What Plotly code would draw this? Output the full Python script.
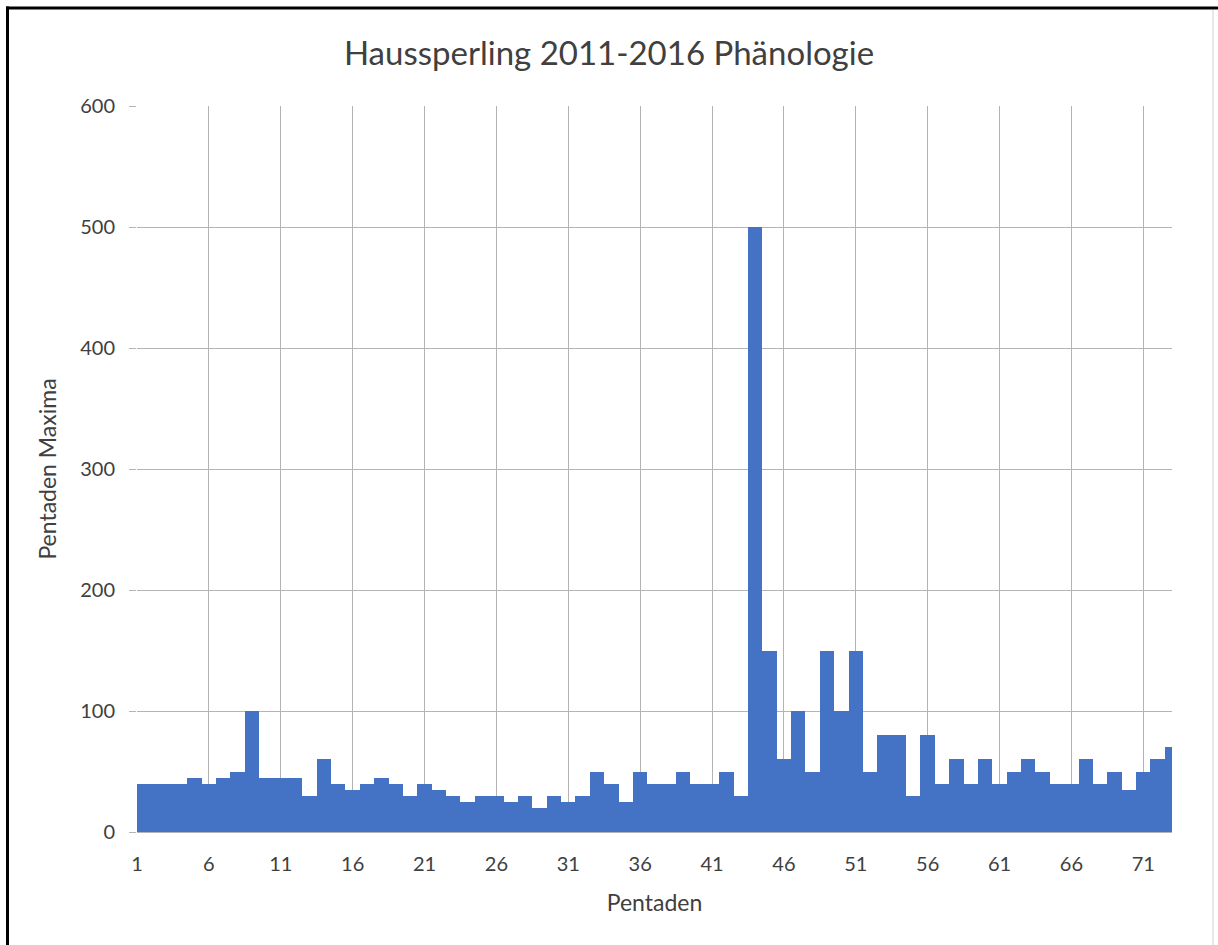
import plotly.graph_objects as go

pentaden = list(range(1, 74))
maxima = [40, 40, 40, 40, 45, 40, 45, 50, 100, 45,
          45, 45, 30, 60, 40, 35, 40, 45, 40, 30,
          40, 35, 30, 25, 30, 30, 25, 30, 20, 30,
          25, 30, 50, 40, 25, 50, 40, 40, 50, 40,
          40, 50, 30, 500, 150, 60, 100, 50, 150, 100,
          150, 50, 80, 80, 30, 80, 40, 60, 40, 60,
          40, 50, 60, 50, 40, 40, 60, 40, 50, 35,
          50, 60, 70]
tick_vals = list(range(1, 74, 5))
title = "Haussperling 2011-2016 Phänologie"
x_title = "Pentaden"
y_title = "Pentaden Maxima"

FONT = "Lato"
TXT = "#404040"
GRID = "#b4b4b4"

fig = go.Figure(go.Bar(x=pentaden, y=maxima, width=1.0,
                       marker=dict(color="#4472C4", line=dict(width=0))))

fig.update_layout(
    width=1218, height=945,
    margin=dict(l=137, r=46, t=106, b=113),
    paper_bgcolor="white", plot_bgcolor="white",
    bargap=0, showlegend=False,
    font=dict(family=FONT, color=TXT, size=20),
    title=dict(text=title, x=0.5, xanchor="center", y=1 - 53 / 945, yanchor="middle",
               font=dict(family=FONT, size=33, color=TXT)),
)
fig.update_xaxes(range=[1, 73], tickmode="array", tickvals=tick_vals,
                 showgrid=True, gridcolor=GRID, gridwidth=1,
                 showline=False, zeroline=False, ticks="",
                 ticklabelstandoff=18,
                 title=dict(text=x_title, standoff=20, font=dict(size=23)))
fig.update_yaxes(range=[0, 600], dtick=100,
                 showgrid=True, gridcolor=GRID, gridwidth=1,
                 showline=False, zeroline=True, zerolinecolor=GRID, zerolinewidth=1,
                 ticks="outside", ticklen=7, tickcolor=GRID,
                 ticklabelstandoff=10,
                 title=dict(text=y_title, standoff=17, font=dict(size=23)))

# frame decoration (screenshot border)
pw, ph = 1218 - 137 - 46, 945 - 106 - 113
def px(x): return (x - 137) / pw
def py(y): return (832 - y) / ph
fig.add_shape(type="line", xref="paper", yref="paper", x0=px(7.5), x1=px(7.5), y0=py(6.5), y1=py(950),
              line=dict(color="black", width=3))
fig.add_shape(type="line", xref="paper", yref="paper", x0=px(6), x1=px(1218), y0=py(8), y1=py(8),
              line=dict(color="black", width=3))
fig.add_shape(type="line", xref="paper", yref="paper", x0=px(1213), x1=px(1213), y0=py(10), y1=py(950),
              line=dict(color="#e0e0e0", width=1.5))

fig.write_html("out.html", config={"displayModeBar": False},
               post_script="document.body.style.margin='0px';")
